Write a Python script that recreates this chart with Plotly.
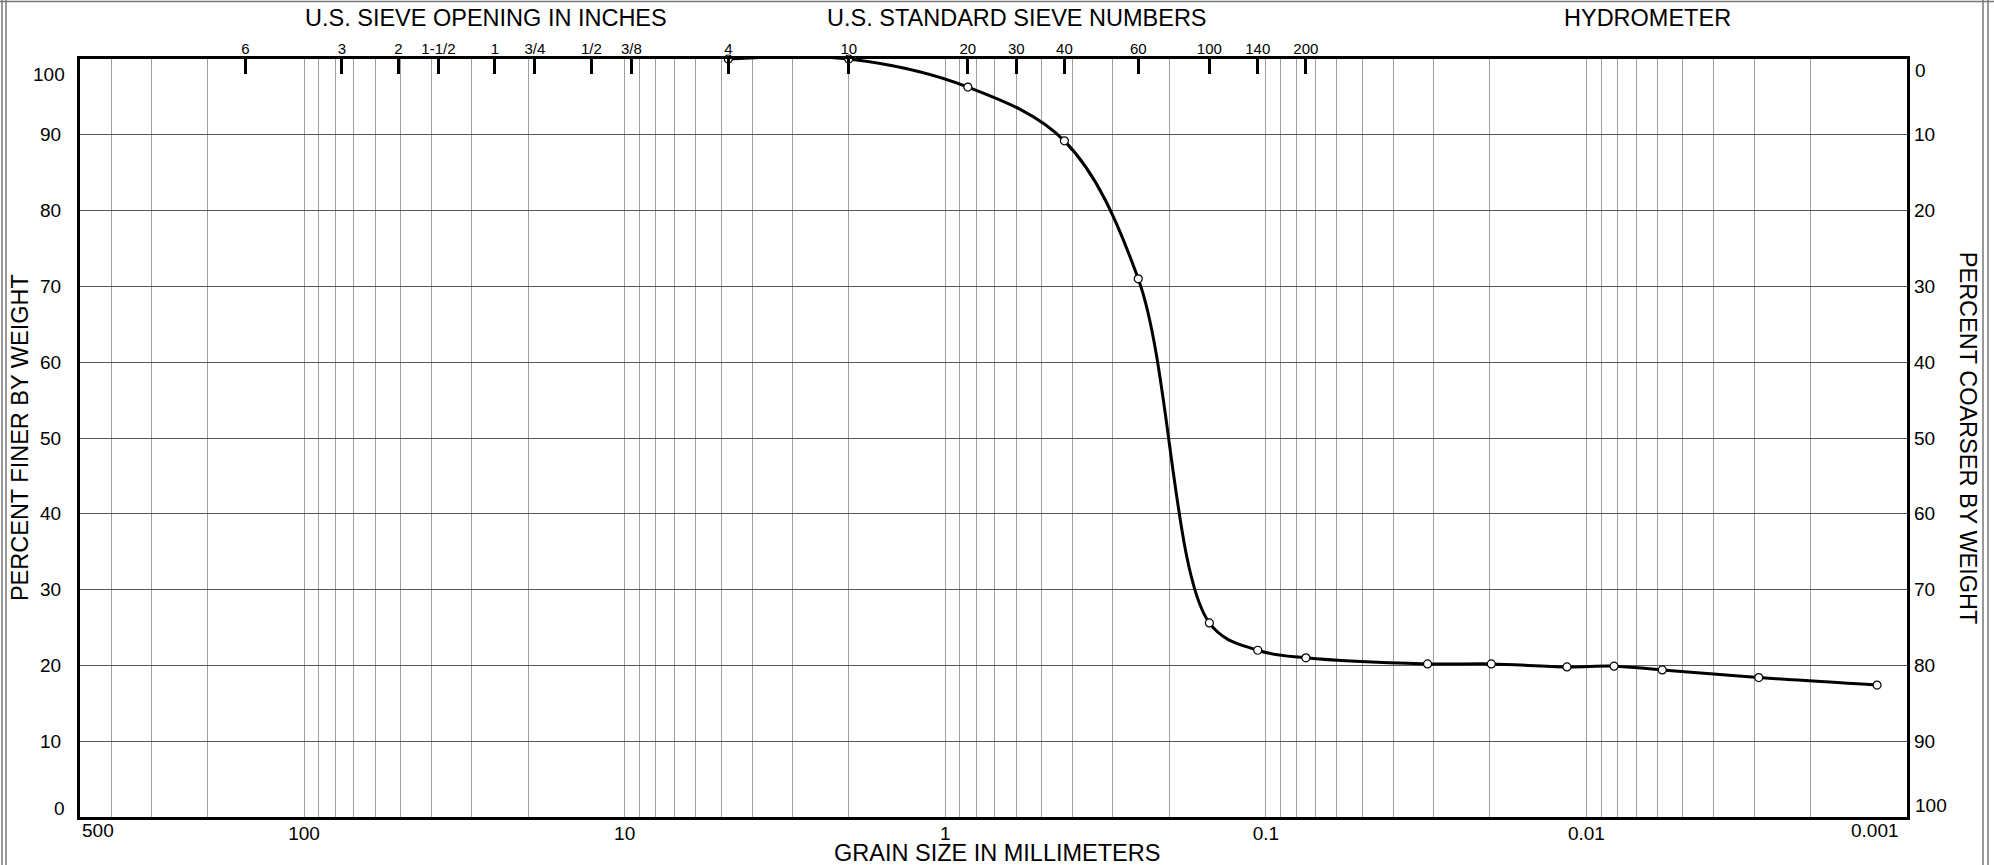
import numpy as np
import plotly.graph_objects as go

# ---------------- data ----------------
grain_size_mm = [4.75, 2.0, 0.85, 0.425, 0.25, 0.15, 0.106, 0.075,
                 0.0313, 0.0198, 0.0115, 0.0082, 0.0058, 0.0029, 0.00124]
percent_finer = [100.0, 100.0, 96.3, 89.2, 71.0, 25.6, 22.0, 21.0,
                 20.2, 20.2, 19.8, 19.9, 19.4, 18.4, 17.4]

sieve_sizes_mm = [152.4, 76.2, 50.8, 38.1, 25.4, 19.05, 12.7, 9.525,
                  4.75, 2.0, 0.85, 0.6, 0.425, 0.25, 0.15, 0.106, 0.075]
sieve_labels = ["6", "3", "2", "1-1/2", "1", "3/4", "1/2", "3/8",
                "4", "10", "20", "30", "40", "60", "100", "140", "200"]

decades = [100, 10, 1, 0.1, 0.01]
decade_labels = ["100", "10", "1", "0.1", "0.01"]
coarse_grid = [400, 300, 200]
percent_ticks = [0, 10, 20, 30, 40, 50, 60, 70, 80, 90, 100]
inner_labels = ["", "10", "20", "30", "40", "50", "60", "70", "80", "90", ""]
coarser_labels = ["", "90", "80", "70", "60", "50", "40", "30", "20", "10", ""]

x_min_mm, x_max_mm = 500, 0.001

# gridline positions (every 1..9 multiple within each decade)
grid_vals, grid_text = [], []
for v in coarse_grid:
    grid_vals.append(v); grid_text.append("")
for d, lab in zip(decades, decade_labels):
    grid_vals.append(d); grid_text.append(lab)
    for m in [9, 8, 7, 6, 5, 4, 3, 2]:
        grid_vals.append(d * m / 10); grid_text.append("")

FONT = "Liberation Sans, Arial, sans-serif"
xr = [np.log10(x_min_mm), np.log10(x_max_mm)]

W, H = 1994, 865
ML, MR, MT, MB = 80, 87, 59, 48
PW, PH = W - ML - MR, H - MT - MB

fig = go.Figure()

# main gradation curve
fig.add_trace(go.Scatter(
    x=grain_size_mm, y=percent_finer, mode="lines+markers",
    line=dict(color="black", width=3, shape="spline", smoothing=1),
    marker=dict(size=8, color="white", line=dict(color="black", width=1.2)),
    cliponaxis=False, hoverinfo="x+y", showlegend=False))

# helper traces so the top sieve axis and right axis exist
fig.add_trace(go.Scatter(x=sieve_sizes_mm, y=[100] * len(sieve_sizes_mm),
                         xaxis="x2", yaxis="y", mode="none",
                         hoverinfo="skip", showlegend=False))
fig.add_trace(go.Scatter(x=grain_size_mm, y=[100 - p for p in percent_finer],
                         xaxis="x", yaxis="y2", mode="none",
                         hoverinfo="skip", showlegend=False))

fig.update_layout(
    width=W, height=H,
    margin=dict(l=ML, r=MR, t=MT, b=MB, autoexpand=False),
    paper_bgcolor="white", plot_bgcolor="white",
    font=dict(family=FONT, color="black", size=19),
    showlegend=False,
    xaxis=dict(type="log", range=xr, autorange=False,
               tickmode="array", tickvals=grid_vals, ticktext=grid_text,
               showgrid=True, gridcolor="#a0a0a0", gridwidth=1,
               showline=True, linecolor="black", linewidth=3, mirror=True,
               ticks="", tickfont=dict(size=19), zeroline=False,
               ticklabelstandoff=-3),
    xaxis2=dict(type="log", range=xr, autorange=False, overlaying="x",
                side="top", tickmode="array", tickvals=sieve_sizes_mm,
                ticktext=sieve_labels, ticks="inside", ticklen=15,
                tickwidth=2.5, tickcolor="black", showgrid=False,
                showline=False, tickfont=dict(size=15), zeroline=False,
                ticklabelstandoff=1),
    yaxis=dict(range=[0, 100], autorange=False, tickmode="array",
               tickvals=percent_ticks, ticktext=inner_labels,
               showgrid=True, gridcolor="#555555",
               gridwidth=1, showline=True, linecolor="black", linewidth=3,
               mirror=True, ticks="", zeroline=False, ticklabelstandoff=12,
               tickfont=dict(size=19)),
    yaxis2=dict(range=[0, 100], autorange=False, overlaying="y", side="right",
                tickmode="array", tickvals=percent_ticks,
                ticktext=coarser_labels, showgrid=False,
                ticks="", zeroline=False, showline=False, ticklabelstandoff=6,
                tickfont=dict(size=19)),
)

ann = [
    dict(text="U.S. SIEVE OPENING IN INCHES", x=0.2224, y=1.054),
    dict(text="U.S. STANDARD SIEVE NUMBERS", x=0.513, y=1.054),
    dict(text="HYDROMETER", x=0.858, y=1.054),
    dict(text="GRAIN SIZE IN MILLIMETERS", x=0.502, y=-0.047),
    dict(text="PERCENT FINER BY WEIGHT", x=-0.0328, y=0.5, textangle=-90),
    dict(text="PERCENT COARSER BY WEIGHT", x=1.0335, y=0.5, textangle=90),
]
for a in ann:
    fig.add_annotation(xref="paper", yref="paper", showarrow=False,
                       xanchor="center", yanchor="middle",
                       font=dict(size=23.5, family=FONT, color="black"), **a)

# edge labels of the grain size axis
fig.add_annotation(x=np.log10(x_min_mm), y=-0.0175, xref="x", yref="paper",
                   text=str(x_min_mm), showarrow=False, xanchor="left",
                   yanchor="middle", font=dict(size=19, family=FONT))
fig.add_annotation(x=np.log10(x_max_mm), y=-0.0175, xref="x", yref="paper",
                   text="0.001", showarrow=False, xanchor="right", xshift=-6,
                   yanchor="middle", font=dict(size=19, family=FONT))

# end labels of the percent scales, set just inside the frame
fig.add_annotation(x=0, y=100, xref="paper", yref="y", text="100",
                   showarrow=False, xanchor="right", yanchor="middle",
                   xshift=-13, yshift=-15, font=dict(size=19, family=FONT))
fig.add_annotation(x=0, y=0, xref="paper", yref="y", text="0",
                   showarrow=False, xanchor="right", yanchor="middle",
                   xshift=-13, yshift=9, font=dict(size=19, family=FONT))
fig.add_annotation(x=1, y=100, xref="paper", yref="y", text="0",
                   showarrow=False, xanchor="left", yanchor="middle",
                   xshift=6, yshift=-11, font=dict(size=19, family=FONT))
fig.add_annotation(x=1, y=0, xref="paper", yref="y", text="100",
                   showarrow=False, xanchor="left", yanchor="middle",
                   xshift=6, yshift=12, font=dict(size=19, family=FONT))

# outer double frame of the sheet
def px_x(p):
    return (p - ML) / float(PW)

def px_y(p):
    return (H - MB - p) / float(PH)

frame = [
    (px_x(2), px_y(0), px_x(2), px_y(H)),
    (px_x(6), px_y(0), px_x(6), px_y(H)),
    (px_x(1983), px_y(0), px_x(1983), px_y(H)),
    (px_x(1988), px_y(0), px_x(1988), px_y(H)),
    (px_x(0), px_y(1.5), px_x(W), px_y(1.5)),
]
for x0, y0, x1, y1 in frame:
    fig.add_shape(type="line", xref="paper", yref="paper", x0=x0, y0=y0,
                  x1=x1, y1=y1, line=dict(color="#777777", width=1.5))

fig.write_html(
    "out.html",
    config={"displayModeBar": False},
    post_script="document.body.style.margin='0';"
                "document.body.style.overflow='hidden';")
